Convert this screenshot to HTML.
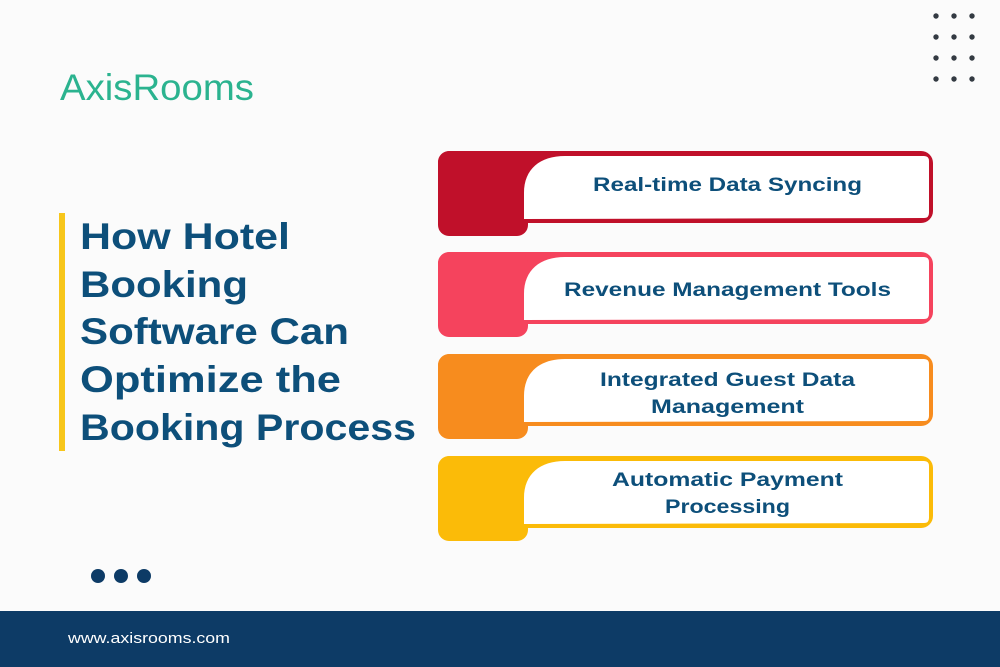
<!DOCTYPE html>
<html><head><meta charset="utf-8"><style>
html,body{margin:0;padding:0;width:1000px;height:667px;overflow:hidden;background:#fbfbfb}
svg{display:block}
</style></head><body>
<svg width="1000" height="667" viewBox="0 0 1000 667" xmlns="http://www.w3.org/2000/svg" font-family="Liberation Sans, sans-serif">
<rect width="1000" height="667" fill="#fbfbfb"/>
<text x="60" y="100" font-size="37" fill="#2bb38f" textLength="194" lengthAdjust="spacingAndGlyphs">AxisRooms</text>
<g fill="#333a42">
<circle cx="936" cy="16" r="2.7"/><circle cx="954" cy="16" r="2.7"/><circle cx="972" cy="16" r="2.7"/>
<circle cx="936" cy="37" r="2.7"/><circle cx="954" cy="37" r="2.7"/><circle cx="972" cy="37" r="2.7"/>
<circle cx="936" cy="58" r="2.7"/><circle cx="954" cy="58" r="2.7"/><circle cx="972" cy="58" r="2.7"/>
<circle cx="936" cy="79" r="2.7"/><circle cx="954" cy="79" r="2.7"/><circle cx="972" cy="79" r="2.7"/>
</g>
<rect x="59" y="213" width="6" height="238" fill="#f7c61b"/>
<g font-size="37" font-weight="bold" fill="#0d4f7a" lengthAdjust="spacingAndGlyphs">
<text x="80" y="249" textLength="210" lengthAdjust="spacingAndGlyphs">How Hotel</text>
<text x="80" y="297" textLength="168" lengthAdjust="spacingAndGlyphs">Booking</text>
<text x="80" y="344" textLength="269" lengthAdjust="spacingAndGlyphs">Software Can</text>
<text x="80" y="392" textLength="261" lengthAdjust="spacingAndGlyphs">Optimize the</text>
<text x="80" y="440" textLength="336" lengthAdjust="spacingAndGlyphs">Booking Process</text>
</g>
<defs>
<g id="w"><path d="M524 68 L524 42 C524 18 540 5 565 5 L924 5 Q929 5 929 10 L929 62 Q929 67 924 67 L524 68 Z" fill="#fff"/></g>
</defs>
<g transform="translate(0,151)"><rect x="438" y="0" width="495" height="72" rx="12" fill="#c0102a"/><rect x="438" y="0" width="90" height="85" rx="11" fill="#c0102a"/><use href="#w"/></g>
<g transform="translate(0,252)"><rect x="438" y="0" width="495" height="72" rx="12" fill="#f5435d"/><rect x="438" y="0" width="90" height="85" rx="11" fill="#f5435d"/><use href="#w"/></g>
<g transform="translate(0,354)"><rect x="438" y="0" width="495" height="72" rx="12" fill="#f78c1e"/><rect x="438" y="0" width="90" height="85" rx="11" fill="#f78c1e"/><use href="#w"/></g>
<g transform="translate(0,456)"><rect x="438" y="0" width="495" height="72" rx="12" fill="#fbbb08"/><rect x="438" y="0" width="90" height="85" rx="11" fill="#fbbb08"/><use href="#w"/></g>
<g font-size="19" font-weight="bold" fill="#0d4f7a">
<text x="593" y="191" textLength="269" lengthAdjust="spacingAndGlyphs">Real-time Data Syncing</text>
<text x="564" y="296" textLength="327" lengthAdjust="spacingAndGlyphs">Revenue Management Tools</text>
<text x="600" y="386" textLength="255" lengthAdjust="spacingAndGlyphs">Integrated Guest Data</text>
<text x="651" y="413" textLength="153" lengthAdjust="spacingAndGlyphs">Management</text>
<text x="612" y="486" textLength="231" lengthAdjust="spacingAndGlyphs">Automatic Payment</text>
<text x="665" y="513" textLength="125" lengthAdjust="spacingAndGlyphs">Processing</text>
</g>
<g fill="#0d3b66"><circle cx="98" cy="576" r="7"/><circle cx="121" cy="576" r="7"/><circle cx="144" cy="576" r="7"/></g>
<rect x="0" y="611" width="1000" height="56" fill="#0d3b66"/>
<text x="68" y="643" font-size="15" fill="#ffffff" textLength="162" lengthAdjust="spacingAndGlyphs">www.axisrooms.com</text>
</svg>
</body></html>
